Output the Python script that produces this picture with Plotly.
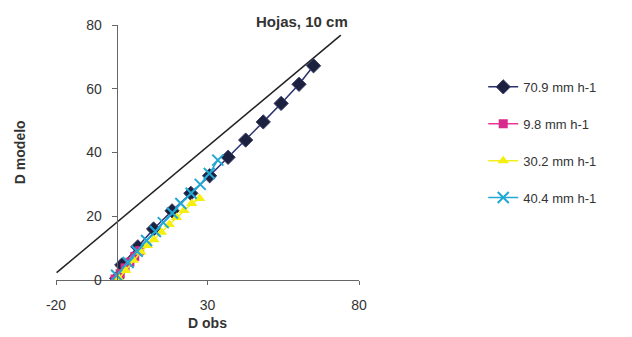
import plotly.graph_objects as go

# ---- data ----
names = ["70.9 mm h-1", "9.8 mm h-1", "30.2 mm h-1", "40.4 mm h-1"]

x709 = [0, 1.7, 7.0, 12.2, 18.3, 24.5, 30.7, 36.8, 42.6, 48.4, 54.3, 60.2, 65.0]
y709 = [0.5, 4.7, 10.4, 16.0, 21.7, 27.2, 32.7, 38.5, 43.9, 49.6, 55.4, 61.4, 67.2]

x98 = [-0.5, 1.2, 2.8, 4.4, 6.0, 7.6]
y98 = [0.3, 2.0, 3.8, 5.6, 7.4, 9.2]

x302 = [0.8, 3.0, 5.5, 8.0, 10.2, 12.3, 14.8, 17.4, 19.8, 22.2, 24.8, 27.4]
y302 = [0.5, 3.0, 6.2, 8.8, 10.8, 12.6, 15.0, 17.4, 19.6, 21.8, 24.0, 25.6]

x404 = [0.0, 3.8, 6.8, 9.9, 12.8, 15.4, 18.4, 21.2, 24.6, 27.6, 30.6, 33.4]
y404 = [1.5, 5.5, 9.0, 12.4, 15.2, 18.0, 21.0, 24.0, 27.2, 30.0, 33.4, 37.6]

ref_x = [-19.8, 74.0]
ref_y = [2.3, 76.8]

x_ticks = [-20, 30, 80]
x_tick_labels = ["-20", "30", "80"]
y_ticks = [0, 20, 40, 60, 80]

font_family = "Liberation Sans, Arial, sans-serif"
txt_color = "#333333"

fig = go.Figure()

fig.add_trace(go.Scatter(x=ref_x, y=ref_y, mode="lines",
                         line=dict(color="#222222", width=1.5),
                         showlegend=False, hoverinfo="skip"))

styles = [
    (x709, y709, "#2a3070", dict(symbol="diamond", size=11, color="#1c2140",
                                 line=dict(color="#3a3f66", width=1))),
    (x98, y98, "#e8359a", dict(symbol="square", size=9, color="#d82a8a")),
    (x302, y302, "#f2ee1a", dict(symbol="triangle-up", size=10, color="#f5ef10")),
    (x404, y404, "#22a8d4", dict(symbol="x-thin", size=11,
                                 line=dict(color="#22a8d4", width=2))),
]

for i, (xs, ys, lc, mk) in enumerate(styles):
    fig.add_trace(go.Scatter(x=xs, y=ys, mode="lines+markers", name=names[i],
                             line=dict(color=lc, width=1.5), marker=mk,
                             legendgroup=f"g{i}"))

fig.add_annotation(text="<b>Hojas, 10 cm</b>", xref="paper", yref="paper",
                   x=0.812, y=1.012, xanchor="center", yanchor="middle",
                   showarrow=False, font=dict(size=15, color=txt_color, family=font_family))

fig.add_annotation(text="<b>D modelo</b>", xref="paper", yref="paper",
                   x=-0.12, y=0.5, textangle=-90, showarrow=False,
                   xanchor="center", yanchor="middle",
                   font=dict(size=14, color=txt_color, family=font_family))

fig.update_layout(
    width=624, height=329,
    margin=dict(l=48, r=273, t=17, b=57, autoexpand=False),
    paper_bgcolor="white", plot_bgcolor="white",
    font=dict(family=font_family, color=txt_color, size=13),
    xaxis=dict(range=[-20, 80], tickvals=x_ticks, ticktext=x_tick_labels,
               showgrid=False, zeroline=False,
               showline=True, linecolor="#666666", linewidth=1,
               ticks="outside", ticklen=4, tickcolor="#666666",
               ticklabelstandoff=8,
               title=dict(text="<b>D obs</b>", standoff=6, font=dict(size=14)),
               tickfont=dict(size=14), automargin=False),
    yaxis=dict(range=[0, 80], tickvals=y_ticks, showgrid=False, zeroline=False,
               showline=True, linecolor="#666666", linewidth=1,
               ticks="outside", ticklen=5, tickcolor="#666666",
               ticklabelstandoff=7,
               anchor="free", position=0.2, automargin=False,
               tickfont=dict(size=14)),
    legend=dict(x=1.41, y=0.816, xanchor="left", yanchor="top",
                tracegroupgap=17, font=dict(size=13, color=txt_color),
                bgcolor="rgba(0,0,0,0)"),
    showlegend=True,
)

fig.write_html("out.html")
